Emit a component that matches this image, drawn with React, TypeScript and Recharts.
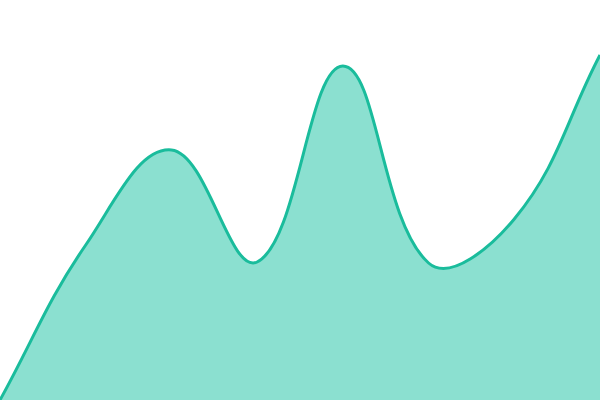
import React from "react";
import { AreaChart, Area, XAxis, YAxis } from "recharts";

const categories = ["A", "B", "C", "D", "E", "F", "G", "H"];
const values = [0, 155, 250, 138, 334, 137, 181, 345];

const data = categories.map((c, i) => ({ c, v: values[i] }));

// Tension spline (control points from neighbouring points, distance weighted)
function makeTensionSpline(tension: number) {
  return function (context: any) {
    let pts: [number, number][] = [];
    let line = NaN;
    const draw = () => {
      const n = pts.length;
      if (n === 0) return;
      const [fx, fy] = pts[0];
      if (line) context.lineTo(fx, fy);
      else context.moveTo(fx, fy);
      if (n === 1) return;
      const cps = pts.map((cur, i) => {
        const prev = pts[i - 1] || cur;
        const next = pts[Math.min(i + 1, n - 1)];
        const d01 = Math.hypot(cur[0] - prev[0], cur[1] - prev[1]);
        const d12 = Math.hypot(next[0] - cur[0], next[1] - cur[1]);
        let s01 = d01 / (d01 + d12);
        let s12 = d12 / (d01 + d12);
        if (isNaN(s01)) s01 = 0;
        if (isNaN(s12)) s12 = 0;
        const fa = tension * s01;
        const fb = tension * s12;
        return {
          px: cur[0] - fa * (next[0] - prev[0]),
          py: cur[1] - fa * (next[1] - prev[1]),
          nx: cur[0] + fb * (next[0] - prev[0]),
          ny: cur[1] + fb * (next[1] - prev[1]),
        };
      });
      for (let i = 1; i < n; i++) {
        const a = cps[i - 1];
        const b = cps[i];
        context.bezierCurveTo(a.nx, a.ny, b.px, b.py, pts[i][0], pts[i][1]);
      }
    };
    return {
      areaStart() { line = 0; },
      areaEnd() { line = NaN; },
      lineStart() { pts = []; },
      lineEnd() {
        draw();
        if (line || (line !== 0 && pts.length === 1)) context.closePath();
        line = 1 - line;
      },
      point(x: number, y: number) {
        pts.push([+x, +y]);
      },
    };
  };
}

const spline = makeTensionSpline(0.4);

export default function App() {
  return (
    <div style={{ position: "fixed", top: 0, left: 0, width: 600, height: 400, background: "#fff" }}>
      <AreaChart width={600} height={400} data={data} margin={{ top: 0, right: 0, bottom: 0, left: 0 }}>
        <XAxis dataKey="c" hide />
        <YAxis type="number" domain={[0, 400]} hide />
        <Area
          type={spline as any}
          dataKey="v"
          stroke="#1abc9c"
          strokeWidth={3}
          fill="#8be0d0"
          fillOpacity={1}
          isAnimationActive={false}
          dot={false}
          activeDot={false}
        />
      </AreaChart>
    </div>
  );
}
